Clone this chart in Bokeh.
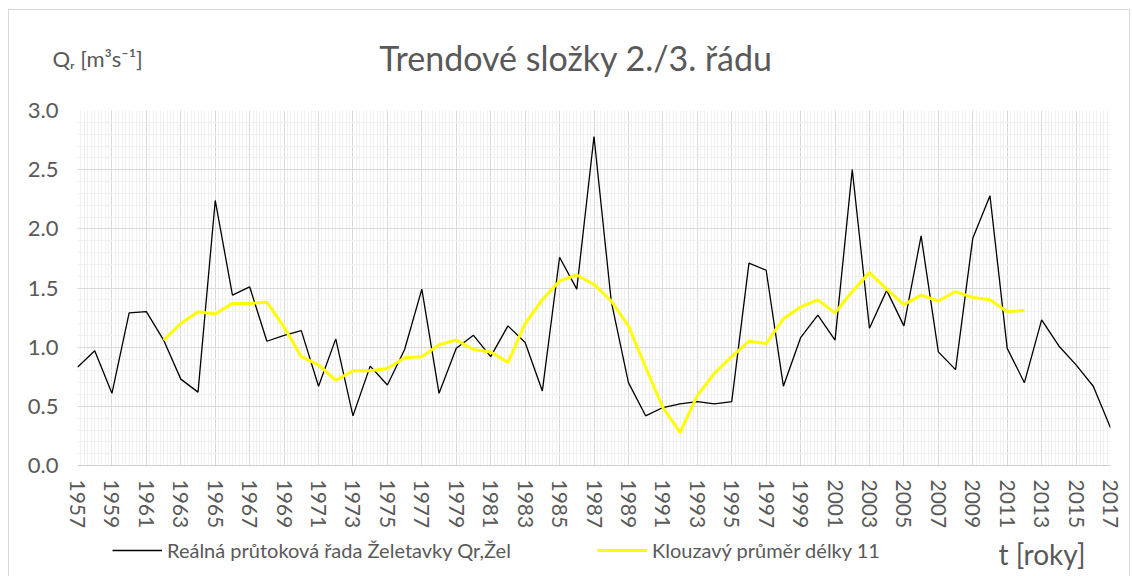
import numpy as np
from bokeh.plotting import figure
from bokeh.layouts import column
from bokeh.models import (FixedTicker, SingleIntervalTicker, PrintfTickFormatter,
                          Legend, LegendItem, Range1d)
from bokeh.core.properties import value
from bokeh.embed import file_html
from bokeh.resources import INLINE

# ---- data ----
years = list(range(1957, 2018))
real_flow = [0.83, 0.97, 0.61, 1.29, 1.30, 1.06, 0.73, 0.62, 2.24, 1.44,
             1.51, 1.05, 1.10, 1.14, 0.67, 1.07, 0.42, 0.84, 0.68, 0.98,
             1.49, 0.61, 0.99, 1.10, 0.92, 1.18, 1.04, 0.63, 1.76, 1.49,
             2.78, 1.39, 0.70, 0.42, 0.49, 0.52, 0.54, 0.52, 0.54, 1.71,
             1.65, 0.67, 1.08, 1.27, 1.06, 2.50, 1.16, 1.48, 1.18, 1.94,
             0.96, 0.81, 1.92, 2.28, 0.99, 0.70, 1.23, 1.01, 0.85, 0.67,
             0.32]
ma_years = list(range(1962, 2013))
moving_avg = [1.06, 1.20, 1.30, 1.28, 1.37, 1.37, 1.38, 1.17, 0.92, 0.85,
              0.72, 0.80, 0.80, 0.82, 0.91, 0.92, 1.02, 1.06, 0.98, 0.96,
              0.87, 1.20, 1.40, 1.56, 1.61, 1.53, 1.39, 1.18, 0.83, 0.49,
              0.28, 0.59, 0.78, 0.92, 1.05, 1.03, 1.24, 1.34, 1.40, 1.29,
              1.47, 1.63, 1.49, 1.36, 1.44, 1.39, 1.47, 1.42, 1.40, 1.30,
              1.31]
x_tick_years = list(range(1957, 2018, 2))
title_text = "Trendové složky 2./3. řádu"
y_label_text = "Qᵣ [m³s⁻¹]"
x_label_text = "t [roky]"
legend_real = "Reálná průtoková řada Želetavky Qr,Žel"
legend_ma = "Klouzavý průměr délky 11"

FONT = "Lato"
TXT = "#595959"
W = 1120            # content width
X0 = 9              # page x of the content's left edge


def blank(height, y_top):
    f = figure(width=W, height=height, output_backend="svg",
               toolbar_location=None,
               x_range=Range1d(X0, X0 + W), y_range=Range1d(y_top + height, y_top),
               min_border=0)
    f.frame_align = False
    f.axis.visible = False
    f.grid.visible = False
    f.outline_line_color = None
    f.border_fill_color = "white"
    f.background_fill_color = "white"
    return f


# ---- header (title + y-axis unit) ----
top = blank(80, 10)
top.text(x=[575.5], y=[57], text=[title_text], text_font=value(FONT),
         text_font_size="34px", text_color=TXT, text_align="center",
         text_baseline="middle")
top.text(x=[52], y=[58], text=[y_label_text], text_font=value(FONT),
         text_font_size="22px", text_color=TXT, text_align="left",
         text_baseline="middle")

# ---- main chart ----
p = figure(width=W, height=441, output_backend="svg", toolbar_location=None,
           x_range=Range1d(1957, 2017), y_range=Range1d(0, 3.0),
           min_border_left=68, min_border_right=19, min_border_top=20,
           min_border_bottom=66)
p.outline_line_color = None
p.background_fill_color = "white"
p.border_fill_color = "white"

minor_x = [round(1957 + 0.2 * i, 1) for i in range(0, 301) if i % 10 != 0]
p.xaxis.ticker = FixedTicker(ticks=x_tick_years, minor_ticks=minor_x)
p.yaxis.ticker = SingleIntervalTicker(interval=0.5, num_minor_ticks=5)
p.yaxis.formatter = PrintfTickFormatter(format="%.1f")

for ax in (p.xaxis, p.yaxis):
    ax.major_tick_line_color = None
    ax.minor_tick_line_color = None
    ax.major_label_text_font = FONT
    ax.major_label_text_color = TXT
    ax.axis_label_standoff = 0
    ax.major_tick_out = 0
    ax.minor_tick_out = 0
p.xaxis.major_label_text_font_size = "21px"
p.yaxis.major_label_text_font_size = "22px"
p.yaxis.axis_line_color = None
p.xaxis.axis_line_color = "#d0d0d0"
p.xaxis.axis_line_width = 1
p.yaxis.major_label_standoff = 19
p.xaxis.major_label_standoff = 14
p.xaxis.major_label_orientation = -np.pi / 2

p.xgrid.grid_line_color = "#d9d9d9"
p.ygrid.grid_line_color = "#d9d9d9"
p.xgrid.minor_grid_line_color = "#f0f0f0"
p.ygrid.minor_grid_line_color = "#f0f0f0"

p.line(years, real_flow, line_color="black", line_width=1.3)
p.line(ma_years, moving_avg, line_color="#ffff00", line_width=3)

# ---- footer (legend + x-axis unit) ----
bot = blank(50, 531)
k1 = bot.line(x=[np.nan], y=[np.nan], line_color="black", line_width=1.3)
k2 = bot.line(x=[np.nan], y=[np.nan], line_color="#ffff00", line_width=3)
for loc, item in (((112 - X0, 19), LegendItem(label=legend_real, renderers=[k1])),
                  ((597 - X0, 19), LegendItem(label=legend_ma, renderers=[k2]))):
    lg = Legend(items=[item], location=loc, orientation="horizontal",
                glyph_width=50, glyph_height=20, label_standoff=5,
                padding=0, margin=0, border_line_color=None,
                background_fill_alpha=0, label_text_font=FONT,
                label_text_font_size="20px", label_text_color=TXT,
                label_height=20)
    bot.add_layout(lg)
bot.text(x=[998], y=[553], text=[x_label_text], text_font=value(FONT),
         text_font_size="28px", text_color=TXT, text_align="left",
         text_baseline="middle")

layout = column(top, p, bot, spacing=0)
layout.styles = {"border": "1px solid #d9d9d9", "margin-left": "8px",
                 "margin-top": "9px"}

open("out.html", "w").write(file_html(layout, INLINE))
